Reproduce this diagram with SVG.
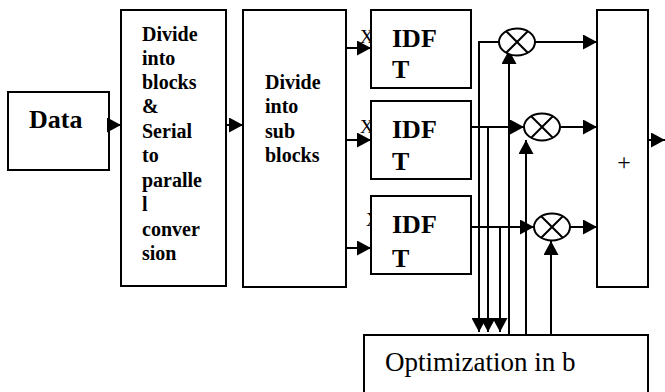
<svg xmlns="http://www.w3.org/2000/svg" width="665" height="392" viewBox="0 0 665 392">
  <style>
    .box { fill: #fff; stroke: #000; stroke-width: 2; }
    .wire { fill: none; stroke: #000; stroke-width: 2; }
    .arr { marker-end: url(#head); }
    .mul { fill: #fff; stroke: #000; stroke-width: 2; }
    .b { font-family: "Liberation Serif", "Times New Roman", serif; font-weight: bold; fill: #000; }
    .r { font-family: "Liberation Serif", "Times New Roman", serif; fill: #000; }
  </style>
  <defs>
    <marker id="head" markerUnits="userSpaceOnUse" markerWidth="15" markerHeight="15" refX="14" refY="7.5" orient="auto">
      <path d="M0,0 L14,7.5 L0,15 z" fill="#000"/>
    </marker>
  </defs>
  <rect width="665" height="392" fill="#fff"/>

  <!-- channel labels, partly hidden behind the IFFT blocks -->
  <g id="labels">
    <text class="r" x="360" y="43" font-size="19">X</text>
    <text class="r" x="360" y="133" font-size="19">X</text>
    <text class="r" x="366" y="226" font-size="19">X</text>
  </g>

  <g id="data">
    <rect class="box" x="8" y="92" width="101" height="78"/>
    <text class="b" x="29" y="128" font-size="26">Data</text>
  </g>

  <g id="s2p">
    <rect class="box" x="121" y="10" width="105" height="276"/>
    <g class="b" font-size="20">
      <text x="142" y="41">Divide</text>
      <text x="142" y="65">into</text>
      <text x="142" y="89">blocks</text>
      <text x="142" y="113">&amp;</text>
      <text x="142" y="138">Serial</text>
      <text x="142" y="162">to</text>
      <text x="142" y="187">paralle</text>
      <text x="142" y="211">l</text>
      <text x="142" y="236">conver</text>
      <text x="142" y="260">sion</text>
    </g>
  </g>

  <g id="subblocks">
    <rect class="box" x="243" y="10" width="103" height="277"/>
    <g class="b" font-size="20">
      <text x="265" y="89">Divide</text>
      <text x="265" y="113">into</text>
      <text x="265" y="138">sub</text>
      <text x="265" y="162">blocks</text>
    </g>
  </g>

  <g id="idft1">
    <rect class="box" x="371" y="10" width="100" height="78"/>
    <text class="b" x="392" y="47" font-size="26">IDF</text>
    <text class="b" x="392" y="78" font-size="26">T</text>
  </g>
  <g id="idft2">
    <rect class="box" x="371" y="101" width="100" height="78"/>
    <text class="b" x="392" y="138" font-size="26">IDF</text>
    <text class="b" x="392" y="170" font-size="26">T</text>
  </g>
  <g id="idft3">
    <rect class="box" x="371" y="196" width="100" height="78"/>
    <text class="b" x="392" y="233" font-size="26">IDF</text>
    <text class="b" x="392" y="267" font-size="26">T</text>
  </g>

  <g id="sum">
    <rect class="box" x="597" y="10" width="51" height="277"/>
    <text class="r" x="624" y="170" font-size="24" text-anchor="middle">+</text>
  </g>

  <g id="optimizer">
    <rect class="box" x="364" y="335" width="284" height="80"/>
    <text class="r" x="385" y="371" font-size="27">Optimization in b</text>
  </g>

  <g id="connectors">
    <path class="wire arr" d="M109,125 H121"/>
    <path class="wire arr" d="M226,125 H243"/>
    <path class="wire arr" d="M346,48 H371"/>
    <path class="wire arr" d="M346,140 H371"/>
    <path class="wire arr" d="M346,248 H371"/>

    <!-- IFFT outputs and taps to the optimizer -->
    <path class="wire arr" d="M499,42 H479 V332"/>
    <path class="wire arr" d="M471,127 H524"/>
    <path class="wire arr" d="M488,127 V332"/>
    <path class="wire arr" d="M471,227 H534"/>
    <path class="wire arr" d="M500,227 V332"/>

    <!-- phase factors from the optimizer -->
    <path class="wire arr" d="M509,335 V50"/>
    <path class="wire arr" d="M526,335 V140"/>
    <path class="wire arr" d="M551,335 V241"/>

    <!-- products into the adder -->
    <path class="wire arr" d="M535,42 H597"/>
    <path class="wire arr" d="M560,127 H597"/>
    <path class="wire arr" d="M570,227 H597"/>
    <path class="wire arr" d="M648,140 H665"/>
  </g>

  <g id="mul1">
    <ellipse class="mul" cx="517" cy="42" rx="18" ry="13.5"/>
    <path class="wire" d="M506.2,31.2 L527.8,52.8 M527.8,31.2 L506.2,52.8"/>
  </g>
  <g id="mul2">
    <ellipse class="mul" cx="542" cy="127" rx="18" ry="13.5"/>
    <path class="wire" d="M531.2,116.2 L552.8,137.8 M552.8,116.2 L531.2,137.8"/>
  </g>
  <g id="mul3">
    <ellipse class="mul" cx="552" cy="227" rx="18" ry="13.5"/>
    <path class="wire" d="M541.2,216.2 L562.8,237.8 M562.8,216.2 L541.2,237.8"/>
  </g>
</svg>
